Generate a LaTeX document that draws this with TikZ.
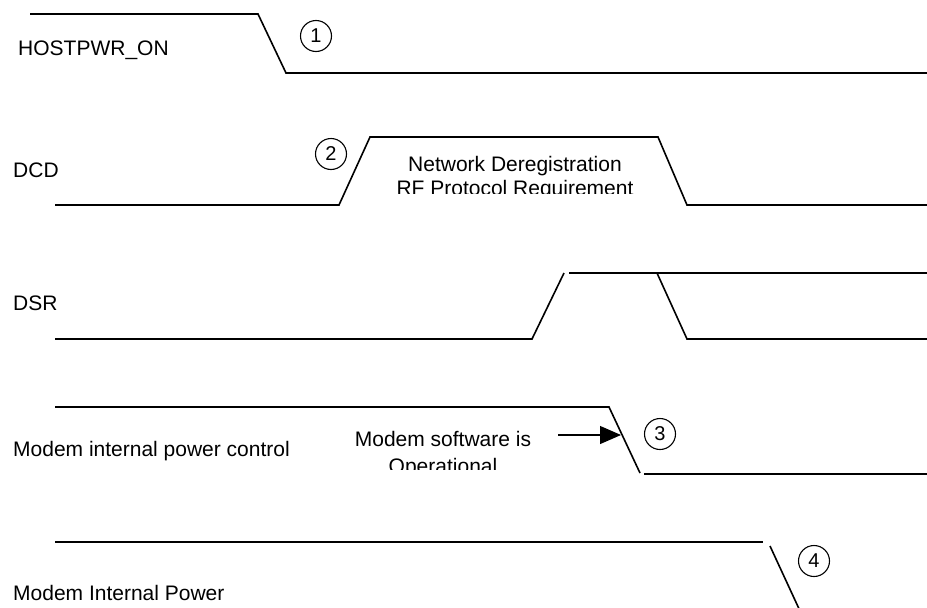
\documentclass[tikz,border=0pt]{standalone}
\usepackage{fontspec}
\setmainfont{Liberation Sans}
\usetikzlibrary{arrows.meta}
\begin{document}
\begin{tikzpicture}[x=1pt,y=-1pt,
  signal/.style={line width=1.6pt,line join=miter},
  lbl/.style={anchor=base west,inner sep=0pt,font=\fontsize{21}{24}\selectfont},
  ctext/.style={anchor=base,inner sep=0pt,font=\fontsize{21}{24}\selectfont},
  numcirc/.style={circle,draw,line width=1.1pt,minimum size=31pt,inner sep=0pt,font=\fontsize{20}{22}\selectfont}]
\useasboundingbox (0,0) rectangle (927,608);
% labels
\node[lbl] (lhost) at (18,55) {HOSTPWR\_ON};
\node[lbl] (ldcd) at (13,177) {DCD};
\node[lbl] (ldsr) at (13,310) {DSR};
\node[lbl] (lmipc) at (13,456) {Modem internal power control};
\node[lbl] (lmip) at (13,600) {Modem Internal Power};
% HOSTPWR_ON
\draw[signal] (30,14) -- (258,14) -- (286,73) -- (927,73);
% DCD
\draw[signal] (55,205) -- (339,205) -- (370,137) -- (658,137) -- (687,205) -- (927,205);
% DSR
\draw[signal] (55,339) -- (532,339) -- (564,273);
\draw[signal] (569,273) -- (927,273);
\draw[signal] (657,273) -- (687,339) -- (927,339);
% Modem internal power control
\draw[signal] (55,407) -- (609,407) -- (640,473);
\draw[signal] (644,474) -- (927,474);
% Modem Internal Power
\draw[signal] (55,542) -- (763,542);
\draw[signal] (770,546) -- (800.5,612);
% circled numbers
\node[numcirc] (c1) at (316,36) {1};
\node[numcirc] (c2) at (331,154) {2};
\node[numcirc] (c3) at (660,434) {3};
\node[numcirc] (c4) at (814,561) {4};
% clipped texts
\begin{scope}
\clip (380,100) rectangle (660,193);
\node[ctext] (net1) at (515,171) {Network Deregistration};
\node[ctext] (net2) at (515,195) {RF Protocol Requirement};
\end{scope}
\begin{scope}
\clip (340,415) rectangle (560,469);
\node[ctext] (sw1) at (443,446) {Modem software is};
\node[ctext] (sw2) at (443,473) {Operational};
\end{scope}
% arrow
\coordinate (arrs) at (558,435);
\coordinate (arre) at (621,435);
\draw[line width=1.2pt,-{Triangle[length=21pt,width=18pt]}] (arrs) -- (arre);
\end{tikzpicture}
\end{document}
